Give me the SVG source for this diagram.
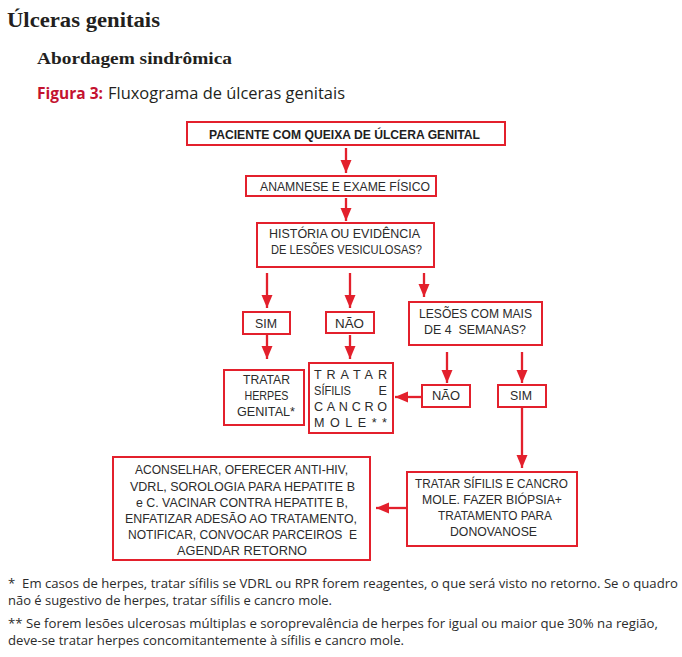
<svg xmlns="http://www.w3.org/2000/svg" width="682" height="657" viewBox="0 0 682 657">
<defs>
<style>
.box{fill:#fff;stroke:#e3202c;stroke-width:2}
.t{font-family:"Liberation Sans","Open Sans",sans-serif;font-size:12.6px;fill:#2b2b2b;text-anchor:middle}
.b{font-weight:bold;fill:#1e1e1e}
.fn{font-family:"Open Sans","Noto Sans","Liberation Sans",sans-serif;font-size:12.3px;fill:#2b2b2b}
.c line{stroke:#e3202c;stroke-width:2.3;marker-end:url(#ah)}
</style>
<marker id="ah" markerUnits="userSpaceOnUse" markerWidth="13" markerHeight="13" viewBox="0 0 13 13" refX="13" refY="6.5" orient="auto">
<path d="M0,1 L13,6.5 L0,12 z" fill="#e3202c"/>
</marker>
</defs>
<rect width="682" height="657" fill="#fff"/>

<text x="7" y="27" font-family="'Liberation Serif',serif" font-weight="bold" font-size="21" fill="#231f20" textLength="153" lengthAdjust="spacingAndGlyphs">Úlceras genitais</text>
<text x="37" y="64" font-family="'Liberation Serif',serif" font-weight="bold" font-size="17.5" fill="#231f20" textLength="195" lengthAdjust="spacingAndGlyphs">Abordagem sindrômica</text>
<text x="37" y="99" font-family="'Open Sans','Noto Sans',sans-serif" font-size="15.5" fill="#231f20"><tspan fill="#c4122f" font-weight="bold" textLength="66" lengthAdjust="spacingAndGlyphs">Figura 3:</tspan><tspan x="108" textLength="237" lengthAdjust="spacingAndGlyphs">Fluxograma de úlceras genitais</tspan></text>

<g id="n1"><rect class="box" x="187" y="122" width="318" height="23"/><text class="t b" x="344.5" y="139" textLength="271" lengthAdjust="spacingAndGlyphs">PACIENTE COM QUEIXA DE ÚLCERA GENITAL</text></g>
<g id="n2"><rect class="box" x="246" y="176" width="190" height="20"/><text class="t" x="345" y="190.5" textLength="170" lengthAdjust="spacingAndGlyphs">ANAMNESE E EXAME FÍSICO</text></g>
<g id="n3"><rect class="box" x="257" y="223" width="177" height="44"/><text class="t" x="344.5" y="238" textLength="151" lengthAdjust="spacingAndGlyphs">HISTÓRIA OU EVIDÊNCIA</text><text class="t" x="346.5" y="254" textLength="151" lengthAdjust="spacingAndGlyphs">DE LESÕES VESICULOSAS?</text></g>
<g id="n4"><rect class="box" x="243" y="312" width="47" height="22"/><text class="t" x="266" y="327.5" textLength="22" lengthAdjust="spacingAndGlyphs">SIM</text></g>
<g id="n5"><rect class="box" x="326" y="312" width="48" height="21"/><text class="t" x="349.5" y="327.5" textLength="29" lengthAdjust="spacingAndGlyphs">NÃO</text></g>
<g id="n6"><rect class="box" x="409" y="302" width="133" height="43"/><text class="t" x="475.5" y="318" textLength="113" lengthAdjust="spacingAndGlyphs">LESÕES COM MAIS</text><text class="t" x="475" y="334" xml:space="preserve" textLength="102" lengthAdjust="spacingAndGlyphs">DE 4  SEMANAS?</text></g>
<g id="n7"><rect class="box" x="224" y="370" width="80" height="55"/><text class="t" x="266.5" y="384" textLength="47" lengthAdjust="spacingAndGlyphs">TRATAR</text><text class="t" x="266.5" y="400" textLength="44" lengthAdjust="spacingAndGlyphs">HERPES</text><text class="t" x="266" y="416" textLength="58" lengthAdjust="spacingAndGlyphs">GENITAL*</text></g>
<g id="n8"><rect class="box" x="309" y="363" width="84" height="70"/>
<text class="t" x="314" y="379" style="text-anchor:start" textLength="73" lengthAdjust="spacing">TRATAR</text>
<text class="t" x="314" y="395" style="text-anchor:start" textLength="37" lengthAdjust="spacingAndGlyphs">SÍFILIS</text><text class="t" x="387" y="395" style="text-anchor:end">E</text>
<text class="t" x="314" y="411" style="text-anchor:start" textLength="73" lengthAdjust="spacing">CANCRO</text>
<text class="t" x="314" y="427" style="text-anchor:start" textLength="73" lengthAdjust="spacing">MOLE**</text></g>
<g id="n9"><rect class="box" x="422" y="385" width="48" height="22"/><text class="t" x="446" y="400" textLength="28" lengthAdjust="spacingAndGlyphs">NÃO</text></g>
<g id="n10"><rect class="box" x="498" y="385" width="48" height="22"/><text class="t" x="521" y="400" textLength="22" lengthAdjust="spacingAndGlyphs">SIM</text></g>
<g id="n11"><rect class="box" x="407" y="472" width="170" height="74"/>
<text class="t" x="491.5" y="488" textLength="153" lengthAdjust="spacingAndGlyphs">TRATAR SÍFILIS E CANCRO</text>
<text class="t" x="492" y="504" textLength="140" lengthAdjust="spacingAndGlyphs">MOLE. FAZER BIÓPSIA+</text>
<text class="t" x="495" y="520" textLength="114" lengthAdjust="spacingAndGlyphs">TRATAMENTO PARA</text>
<text class="t" x="493.5" y="536" textLength="87" lengthAdjust="spacingAndGlyphs">DONOVANOSE</text></g>
<g id="n12"><rect class="box" x="113" y="457" width="257" height="103"/>
<text class="t" x="241.5" y="474" textLength="213" lengthAdjust="spacingAndGlyphs">ACONSELHAR, OFERECER ANTI-HIV,</text>
<text class="t" x="242.5" y="490.5" textLength="225" lengthAdjust="spacingAndGlyphs">VDRL, SOROLOGIA PARA HEPATITE B</text>
<text class="t" x="242" y="507" textLength="212" lengthAdjust="spacingAndGlyphs">e C. VACINAR CONTRA HEPATITE B,</text>
<text class="t" x="241" y="523" textLength="232" lengthAdjust="spacingAndGlyphs">ENFATIZAR ADESÃO AO TRATAMENTO,</text>
<text class="t" x="242.5" y="539" xml:space="preserve" textLength="229" lengthAdjust="spacingAndGlyphs">NOTIFICAR, CONVOCAR PARCEIROS  E</text>
<text class="t" x="242" y="555" textLength="130" lengthAdjust="spacingAndGlyphs">AGENDAR RETORNO</text></g>

<g id="connectors" class="c">
<line x1="346" y1="148" x2="346" y2="173"/>
<line x1="346" y1="198" x2="346" y2="221"/>
<line x1="267" y1="273" x2="267" y2="308"/>
<line x1="350" y1="273" x2="350" y2="308"/>
<line x1="424" y1="273" x2="424" y2="297"/>
<line x1="267" y1="335" x2="267" y2="359"/>
<line x1="350" y1="335" x2="350" y2="359"/>
<line x1="447" y1="352" x2="447" y2="383"/>
<line x1="522" y1="352" x2="522" y2="383"/>
<line x1="422" y1="397" x2="395" y2="397"/>
<line x1="522" y1="407" x2="522" y2="468"/>
<line x1="407" y1="508" x2="376" y2="508"/>
</g>

<text class="fn" x="8" y="588" xml:space="preserve" textLength="670" lengthAdjust="spacingAndGlyphs">*  Em casos de herpes, tratar sífilis se VDRL ou RPR forem reagentes, o que será visto no retorno. Se o quadro</text>
<text class="fn" x="8" y="605" textLength="324" lengthAdjust="spacingAndGlyphs">não é sugestivo de herpes, tratar sífilis e cancro mole.</text>
<text class="fn" x="8" y="628" textLength="650" lengthAdjust="spacingAndGlyphs">** Se forem lesões ulcerosas múltiplas e soroprevalência de herpes for igual ou maior que 30% na região,</text>
<text class="fn" x="8" y="645" textLength="396" lengthAdjust="spacingAndGlyphs">deve-se tratar herpes concomitantemente à sífilis e cancro mole.</text>
</svg>
